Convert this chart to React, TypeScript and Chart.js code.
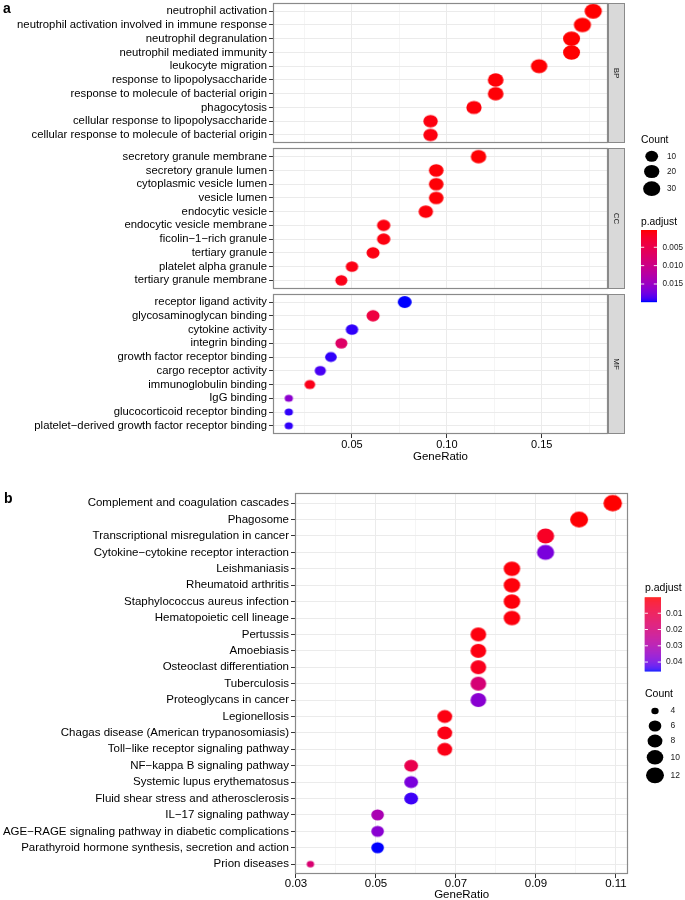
import React, { useEffect, useRef } from "react";
import { Chart, registerables } from "chart.js";

Chart.register(...registerables);
Chart.defaults.font.family = "'Liberation Sans', Arial, sans-serif";

// ---------------- Panel a data (GO enrichment) ----------------
const bpTerms = [
  "neutrophil activation",
  "neutrophil activation involved in immune response",
  "neutrophil degranulation",
  "neutrophil mediated immunity",
  "leukocyte migration",
  "response to lipopolysaccharide",
  "response to molecule of bacterial origin",
  "phagocytosis",
  "cellular response to lipopolysaccharide",
  "cellular response to molecule of bacterial origin",
];
const bpRatio = [0.1771, 0.1714, 0.1657, 0.1657, 0.1486, 0.1257, 0.1257, 0.1143, 0.0914, 0.0914];
const bpCount = [31, 30, 29, 29, 26, 22, 22, 20, 16, 16];
const bpPadj = [0.0003, 0.0003, 0.0003, 0.0003, 0.0004, 0.0005, 0.0005, 0.0006, 0.0008, 0.0008];

const ccTerms = [
  "secretory granule membrane",
  "secretory granule lumen",
  "cytoplasmic vesicle lumen",
  "vesicle lumen",
  "endocytic vesicle",
  "endocytic vesicle membrane",
  "ficolin\u22121\u2212rich granule",
  "tertiary granule",
  "platelet alpha granule",
  "tertiary granule membrane",
];
const ccRatio = [0.1167, 0.0944, 0.0944, 0.0944, 0.0889, 0.0667, 0.0667, 0.0611, 0.05, 0.0444];
const ccCount = [21, 17, 17, 17, 16, 12, 12, 11, 9, 8];
const ccPadj = [0.0004, 0.0005, 0.0005, 0.0005, 0.0006, 0.0008, 0.0008, 0.0009, 0.001, 0.0012];

const mfTerms = [
  "receptor ligand activity",
  "glycosaminoglycan binding",
  "cytokine activity",
  "integrin binding",
  "growth factor receptor binding",
  "cargo receptor activity",
  "immunoglobulin binding",
  "IgG binding",
  "glucocorticoid receptor binding",
  "platelet\u2212derived growth factor receptor binding",
];
const mfRatio = [0.0778, 0.0611, 0.05, 0.0444, 0.0389, 0.0333, 0.0278, 0.0167, 0.0167, 0.0167];
const mfCount = [14, 11, 9, 8, 7, 6, 5, 3, 3, 3];
const mfPadj = [0.0199, 0.004, 0.0195, 0.007, 0.0195, 0.019, 0.0012, 0.016, 0.0195, 0.0195];

const facetNames = ["BP", "CC", "MF"];
const xTicksA = [0.025, 0.05, 0.075, 0.1, 0.125, 0.15, 0.175];
const countLegendA = [10, 20, 30];
const padjLegendA = [0.005, 0.01, 0.015];
const padjLegendLabelsA = ["0.005", "0.010", "0.015"];

// ---------------- Panel b data (KEGG enrichment) ----------------
const keggTerms = [
  "Complement and coagulation cascades",
  "Phagosome",
  "Transcriptional misregulation in cancer",
  "Cytokine\u2212cytokine receptor interaction",
  "Leishmaniasis",
  "Rheumatoid arthritis",
  "Staphylococcus aureus infection",
  "Hematopoietic cell lineage",
  "Pertussis",
  "Amoebiasis",
  "Osteoclast differentiation",
  "Tuberculosis",
  "Proteoglycans in cancer",
  "Legionellosis",
  "Chagas disease (American trypanosomiasis)",
  "Toll\u2212like receptor signaling pathway",
  "NF\u2212kappa B signaling pathway",
  "Systemic lupus erythematosus",
  "Fluid shear stress and atherosclerosis",
  "IL\u221217 signaling pathway",
  "AGE\u2212RAGE signaling pathway in diabetic complications",
  "Parathyroid hormone synthesis, secretion and action",
  "Prion diseases",
];
const keggRatio = [
  0.1092, 0.1008, 0.0924, 0.0924, 0.084, 0.084, 0.084, 0.084, 0.0756, 0.0756, 0.0756, 0.0756,
  0.0756, 0.0672, 0.0672, 0.0672, 0.0588, 0.0588, 0.0588, 0.0504, 0.0504, 0.0504, 0.0336,
];
const keggCount = [13, 12, 11, 11, 10, 10, 10, 10, 9, 9, 9, 9, 9, 8, 8, 8, 7, 7, 7, 6, 6, 6, 4];
const keggPadj = [
  0.0002, 0.0005, 0.004, 0.039, 0.001, 0.001, 0.001, 0.0012, 0.0012, 0.0015, 0.003, 0.019,
  0.037, 0.0015, 0.0018, 0.002, 0.011, 0.039, 0.044, 0.031, 0.037, 0.0455, 0.018,
];
const xTicksB = [0.03, 0.04, 0.05, 0.06, 0.07, 0.08, 0.09, 0.1, 0.11];
const countLegendB = [4, 6, 8, 10, 12];
const padjLegendB = [0.01, 0.02, 0.03, 0.04];
const padjLegendLabelsB = ["0.01", "0.02", "0.03", "0.04"];

// ---------------- colour helpers (Lab interpolation red -> blue) ----------------
function srgbToLab(rgb: number[]) {
  const lin = rgb.map((c) => {
    const v = c / 255;
    return v <= 0.04045 ? v / 12.92 : Math.pow((v + 0.055) / 1.055, 2.4);
  });
  const [R, G, B] = lin;
  const X = (0.4124564 * R + 0.3575761 * G + 0.1804375 * B) / 0.95047;
  const Y = 0.2126729 * R + 0.7151522 * G + 0.072175 * B;
  const Z = (0.0193339 * R + 0.119192 * G + 0.9503041 * B) / 1.08883;
  const f = (t: number) => (t > 216 / 24389 ? Math.cbrt(t) : ((24389 / 27) * t + 16) / 116);
  return [116 * f(Y) - 16, 500 * (f(X) - f(Y)), 200 * (f(Y) - f(Z))];
}
function labToCss(lab: number[]) {
  const [L, a, b] = lab;
  const fy = (L + 16) / 116;
  const fx = fy + a / 500;
  const fz = fy - b / 200;
  const finv = (t: number) => (t * t * t > 216 / 24389 ? t * t * t : (116 * t - 16) / (24389 / 27));
  const X = 0.95047 * finv(fx);
  const Y = finv(fy);
  const Z = 1.08883 * finv(fz);
  const r = 3.2404542 * X - 1.5371385 * Y - 0.4985314 * Z;
  const g = -0.969266 * X + 1.8760108 * Y + 0.041556 * Z;
  const bb = 0.0556434 * X - 0.2040259 * Y + 1.0572252 * Z;
  const gam = (c: number) => {
    const v = c <= 0.0031308 ? 12.92 * c : 1.055 * Math.pow(c, 1 / 2.4) - 0.055;
    return Math.round(Math.max(0, Math.min(1, v)) * 255);
  };
  return `rgb(${gam(r)},${gam(g)},${gam(bb)})`;
}
const LAB_LOW = srgbToLab([255, 0, 0]);
const LAB_HIGH = srgbToLab([0, 0, 255]);
function rampColor(t: number) {
  const tt = Math.max(0, Math.min(1, t));
  return labToCss(LAB_LOW.map((v, i) => v + (LAB_HIGH[i] - v) * tt));
}

// ---------------- dot images ----------------
const dotCache: Record<string, HTMLCanvasElement> = {};
function dotImage(w: number, h: number, color: string) {
  const key = `${w.toFixed(2)}_${h.toFixed(2)}_${color}`;
  if (dotCache[key]) return dotCache[key];
  const c = document.createElement("canvas");
  c.width = Math.ceil(w) + 2;
  c.height = Math.ceil(h) + 2;
  const ctx = c.getContext("2d")!;
  ctx.fillStyle = color;
  ctx.beginPath();
  ctx.ellipse(c.width / 2, c.height / 2, w / 2, h / 2, 0, 0, Math.PI * 2);
  ctx.fill();
  dotCache[key] = c;
  return c;
}

function sizeFn(cmin: number, cmax: number, a0: number, a1: number, aspect: number) {
  return (c: number) => {
    const s = 3 + 5 * Math.sqrt(Math.max(0, (c - cmin) / (cmax - cmin)));
    const w = a0 + a1 * s;
    return { w, h: w * aspect };
  };
}

const FONT = "'Liberation Sans', Arial, sans-serif";

function drawLegend(
  ctx: CanvasRenderingContext2D,
  cfg: {
    countTitle: [number, number];
    countX: number;
    countYs: number[];
    countVals: number[];
    countLabelX: number;
    sizer: (c: number) => { w: number; h: number };
    padjTitle: [number, number];
    bar: { x: number; y: number; w: number; h: number };
    pmin: number;
    pmax: number;
    pTicks: number[];
    pLabels: string[];
    pLabelX: number;
    titleSize: number;
    labelSize: number;
  }
) {
  ctx.save();
  ctx.fillStyle = "#000";
  ctx.textBaseline = "middle";
  ctx.textAlign = "left";
  ctx.font = `${cfg.titleSize}px ${FONT}`;
  ctx.fillText("Count", cfg.countTitle[0], cfg.countTitle[1]);
  ctx.fillText("p.adjust", cfg.padjTitle[0], cfg.padjTitle[1]);
  ctx.font = `${cfg.labelSize}px ${FONT}`;
  cfg.countVals.forEach((v, i) => {
    const { w, h } = cfg.sizer(v);
    ctx.beginPath();
    ctx.ellipse(cfg.countX, cfg.countYs[i], w / 2, h / 2, 0, 0, Math.PI * 2);
    ctx.fillStyle = "#000";
    ctx.fill();
    ctx.fillStyle = "#1a1a1a";
    ctx.fillText(String(v), cfg.countLabelX, cfg.countYs[i]);
  });
  const { x, y, w, h } = cfg.bar;
  const steps = Math.ceil(h);
  for (let i = 0; i < steps; i++) {
    ctx.fillStyle = rampColor(i / (steps - 1));
    ctx.fillRect(x, y + i, w, 1.2);
  }
  cfg.pTicks.forEach((p, i) => {
    const t = (p - cfg.pmin) / (cfg.pmax - cfg.pmin);
    const ty = y + t * h;
    ctx.strokeStyle = "rgba(255,255,255,0.9)";
    ctx.lineWidth = 1;
    ctx.beginPath();
    ctx.moveTo(x, ty);
    ctx.lineTo(x + w / 5, ty);
    ctx.moveTo(x + w, ty);
    ctx.lineTo(x + w - w / 5, ty);
    ctx.stroke();
    ctx.fillStyle = "#1a1a1a";
    ctx.fillText(cfg.pLabels[i], cfg.pLabelX, ty);
  });
  ctx.restore();
}

function isMultiple(v: number, step: number) {
  const q = v / step;
  return Math.abs(q - Math.round(q)) < 1e-6;
}

// ---------------- panel a layout ----------------
const GAP = 0.38;
const FACET_SPAN = 10.2 + GAP;
const facetTerms = [bpTerms, ccTerms, mfTerms];
const facetRatio = [bpRatio, ccRatio, mfRatio];
const facetCount = [bpCount, ccCount, mfCount];
const facetPadj = [bpPadj, ccPadj, mfPadj];

function zeroPadY(axis: any) {
  axis.paddingTop = 0;
  axis.paddingBottom = 0;
}
function zeroPadX(axis: any) {
  axis.paddingLeft = 0;
  axis.paddingRight = 0;
}

function PanelA() {
  const ref = useRef<HTMLCanvasElement>(null);
  useEffect(() => {
    const allCounts = facetCount.flat();
    const allP = facetPadj.flat();
    const cmin = Math.min(...allCounts);
    const cmax = Math.max(...allCounts);
    const pmin = Math.min(...allP);
    const pmax = Math.max(...allP);
    const sizer = sizeFn(cmin, cmax, 2.9, 1.8, 0.86);

    const labelMap = new Map<string, string>();
    const rowPos: number[] = [];
    const points: any[] = [];
    facetTerms.forEach((terms, k) => {
      terms.forEach((t, i) => {
        const yv = k * FACET_SPAN + i;
        rowPos.push(yv);
        labelMap.set(yv.toFixed(3), t);
        points.push({
          x: facetRatio[k][i],
          y: yv,
          count: facetCount[k][i],
          p: facetPadj[k][i],
        });
      });
    });
    const panels = [0, 1, 2].map((k) => ({
      top: k * FACET_SPAN - 0.6,
      bottom: k * FACET_SPAN + 9.6,
    }));
    const yMax = panels[2].bottom;

    const plugin = {
      id: "facetsA",
      beforeDatasetsDraw(chart: any) {
        const { ctx, chartArea } = chart;
        const ys = chart.scales.y;
        ctx.save();
        ctx.fillStyle = "#fff";
        for (let k = 0; k < 2; k++) {
          const y0 = ys.getPixelForValue(panels[k].bottom);
          const y1 = ys.getPixelForValue(panels[k + 1].top);
          ctx.fillRect(chartArea.left - 0.5, y0, chartArea.right - chartArea.left + 1, y1 - y0);
        }
        ctx.restore();
      },
      afterDraw(chart: any) {
        const { ctx, chartArea } = chart;
        const ys = chart.scales.y;
        ctx.save();
        panels.forEach((pn, k) => {
          const y0 = Math.round(ys.getPixelForValue(pn.top)) + 0.5;
          const y1 = Math.round(ys.getPixelForValue(pn.bottom)) - 0.5;
          const l = Math.round(chartArea.left) + 0.5;
          const r = Math.round(chartArea.right) - 0.5;
          // strip
          ctx.fillStyle = "#D9D9D9";
          ctx.fillRect(r + 1, y0, 16, y1 - y0);
          ctx.strokeStyle = "#8a8a8a";
          ctx.lineWidth = 1;
          ctx.strokeRect(r + 1, y0, 16, y1 - y0);
          // panel border
          ctx.strokeStyle = "#8a8a8a";
          ctx.lineWidth = 1.2;
          ctx.strokeRect(l, y0, r - l, y1 - y0);
          // strip text
          ctx.save();
          ctx.translate(r + 9, (y0 + y1) / 2);
          ctx.rotate(Math.PI / 2);
          ctx.fillStyle = "#1a1a1a";
          ctx.font = `8px ${FONT}`;
          ctx.textAlign = "center";
          ctx.textBaseline = "middle";
          ctx.fillText(facetNames[k], 0, 0);
          ctx.restore();
        });
        ctx.restore();
        drawLegend(ctx, {
          countTitle: [641, 140],
          countX: 651.7,
          countYs: [156.3, 171.5, 188.7],
          countVals: countLegendA,
          countLabelX: 667,
          sizer,
          padjTitle: [641, 222],
          bar: { x: 641, y: 230, w: 16, h: 72 },
          pmin,
          pmax,
          pTicks: padjLegendA,
          pLabels: padjLegendLabelsA,
          pLabelX: 662.5,
          titleSize: 10.3,
          labelSize: 8.2,
        });
      },
    };

    const chart = new Chart(ref.current!, {
      type: "scatter",
      data: {
        datasets: [
          {
            data: points,
            pointStyle: (c: any) => {
              const d = c.raw;
              if (!d) return "circle";
              const { w, h } = sizer(d.count);
              return dotImage(w, h, rampColor((d.p - pmin) / (pmax - pmin)));
            },
            pointRadius: (c: any) => (c.raw ? sizer(c.raw.count).w / 2 : 3),
            pointHoverRadius: (c: any) => (c.raw ? sizer(c.raw.count).w / 2 : 3),
            clip: false,
          } as any,
        ],
      },
      options: {
        animation: false,
        responsive: false,
        maintainAspectRatio: false,
        events: [],
        layout: { autoPadding: false, padding: { left: 0, right: 77, top: 3, bottom: 0 } },
        plugins: { legend: { display: false }, tooltip: { enabled: false } },
        scales: {
          x: {
            type: "linear",
            min: 0.0084,
            max: 0.1849,
            afterBuildTicks: (axis: any) => {
              axis.ticks = xTicksA.map((v) => ({ value: v }));
            },
            afterFit: (axis: any) => {
              axis.height = 36;
              zeroPadX(axis);
            },
            ticks: {
              autoSkip: false,
              maxRotation: 0,
              padding: 0,
              color: "#000",
              font: { size: 11 },
              callback: (v: any) => (isMultiple(v, 0.05) ? Number(v).toFixed(2) : ""),
            },
            grid: {
              color: "#EBEBEB",
              lineWidth: (c: any) => (c.tick && isMultiple(c.tick.value, 0.05) ? 1 : 0.5),
              tickColor: (c: any) =>
                c.tick && isMultiple(c.tick.value, 0.05) ? "#333" : "rgba(0,0,0,0)",
              tickLength: 4,
            },
            border: { display: false },
            title: {
              display: true,
              text: "GeneRatio",
              color: "#000",
              font: { size: 11.5 },
              padding: { top: 0, bottom: 6 },
            },
          },
          y: {
            type: "linear",
            reverse: true,
            min: -0.6,
            max: yMax,
            afterBuildTicks: (axis: any) => {
              axis.ticks = rowPos.map((v) => ({ value: v }));
            },
            afterFit: (axis: any) => {
              axis.width = 273;
              zeroPadY(axis);
            },
            ticks: {
              autoSkip: false,
              padding: 2,
              color: "#000",
              font: { size: 11.3 },
              callback: (v: any) => labelMap.get(Number(v).toFixed(3)) ?? "",
            },
            grid: { color: "#EBEBEB", lineWidth: 1, tickColor: "#333", tickLength: 4 },
            border: { display: false },
          },
        },
      } as any,
      plugins: [plugin],
    });
    return () => chart.destroy();
  }, []);
  return (
    <canvas
      ref={ref}
      width={685}
      height={470}
      style={{ position: "absolute", left: 0, top: 0, width: 685, height: 470 }}
    />
  );
}

function PanelB() {
  const ref = useRef<HTMLCanvasElement>(null);
  useEffect(() => {
    const cmin = Math.min(...keggCount);
    const cmax = Math.max(...keggCount);
    const pmin = Math.min(...keggPadj);
    const pmax = Math.max(...keggPadj);
    const sizer = sizeFn(cmin, cmax, 0.6, 2.25, 0.88);
    const points = keggTerms.map((t, i) => ({
      x: keggRatio[i],
      y: i,
      count: keggCount[i],
      p: keggPadj[i],
    }));
    const rowPos = keggTerms.map((_, i) => i);

    const plugin = {
      id: "frameB",
      afterDraw(chart: any) {
        const { ctx, chartArea } = chart;
        ctx.save();
        const l = Math.round(chartArea.left) + 0.5;
        const r = Math.round(chartArea.right) - 0.5;
        const t = Math.round(chartArea.top) + 0.5;
        const b = Math.round(chartArea.bottom) - 0.5;
        ctx.strokeStyle = "#8a8a8a";
        ctx.lineWidth = 1.2;
        ctx.strokeRect(l, t, r - l, b - t);
        ctx.restore();
        drawLegend(ctx, {
          countTitle: [645, 224.3],
          countX: 655,
          countYs: [241, 256, 271, 287.3, 305.3],
          countVals: countLegendB,
          countLabelX: 670.5,
          sizer,
          padjTitle: [645, 118.3],
          bar: { x: 644.7, y: 127.3, w: 16.3, h: 73.7 },
          pmin,
          pmax,
          pTicks: padjLegendB,
          pLabels: padjLegendLabelsB,
          pLabelX: 666,
          titleSize: 10.5,
          labelSize: 8.5,
        });
      },
    };

    const chart = new Chart(ref.current!, {
      type: "scatter",
      data: {
        datasets: [
          {
            data: points,
            pointStyle: (c: any) => {
              const d = c.raw;
              if (!d) return "circle";
              const { w, h } = sizer(d.count);
              return dotImage(w, h, rampColor((d.p - pmin) / (pmax - pmin)));
            },
            pointRadius: (c: any) => (c.raw ? sizer(c.raw.count).w / 2 : 3),
            pointHoverRadius: (c: any) => (c.raw ? sizer(c.raw.count).w / 2 : 3),
            clip: false,
          } as any,
        ],
      },
      options: {
        animation: false,
        responsive: false,
        maintainAspectRatio: false,
        events: [],
        layout: { autoPadding: false, padding: { left: 0, right: 56.7, top: 23.3, bottom: 0 } },
        plugins: { legend: { display: false }, tooltip: { enabled: false } },
        scales: {
          x: {
            type: "linear",
            min: 0.02975,
            max: 0.1131,
            afterBuildTicks: (axis: any) => {
              axis.ticks = xTicksB.map((v) => ({ value: v }));
            },
            afterFit: (axis: any) => {
              axis.height = 26;
              zeroPadX(axis);
            },
            ticks: {
              autoSkip: false,
              maxRotation: 0,
              padding: -1.5,
              color: "#000",
              font: { size: 11.5 },
              callback: (v: any) =>
                Math.round(Number(v) * 100) % 2 === 1 ? Number(v).toFixed(2) : "",
            },
            grid: {
              color: "#EBEBEB",
              lineWidth: (c: any) =>
                c.tick && Math.round(c.tick.value * 100) % 2 === 1 ? 1 : 0.5,
              tickColor: (c: any) =>
                c.tick && Math.round(c.tick.value * 100) % 2 === 1 ? "#333" : "rgba(0,0,0,0)",
              tickLength: 4,
            },
            border: { display: false },
            title: {
              display: true,
              text: "GeneRatio",
              color: "#000",
              font: { size: 11.5 },
              padding: { top: 0, bottom: -2 },
            },
          },
          y: {
            type: "linear",
            reverse: true,
            min: -0.6,
            max: keggTerms.length - 1 + 0.6,
            afterBuildTicks: (axis: any) => {
              axis.ticks = rowPos.map((v) => ({ value: v }));
            },
            afterFit: (axis: any) => {
              axis.width = 295;
              zeroPadY(axis);
            },
            ticks: {
              autoSkip: false,
              padding: 2,
              color: "#000",
              font: { size: 11.5 },
              callback: (v: any) => keggTerms[Math.round(Number(v))] ?? "",
            },
            grid: { color: "#EBEBEB", lineWidth: 1, tickColor: "#333", tickLength: 4 },
            border: { display: false },
          },
        },
      } as any,
      plugins: [plugin],
    });
    return () => chart.destroy();
  }, []);
  return (
    <canvas
      ref={ref}
      width={685}
      height={430}
      style={{ position: "absolute", left: 0, top: 470, width: 685, height: 430 }}
    />
  );
}

export default function App() {
  const labelStyle: React.CSSProperties = {
    position: "absolute",
    fontFamily: FONT,
    fontWeight: "bold",
    fontSize: 14,
    lineHeight: "14px",
    color: "#000",
  };
  return (
    <div
      style={{
        position: "absolute",
        left: 0,
        top: 0,
        width: 685,
        height: 900,
        background: "#fff",
        overflow: "hidden",
      }}
    >
      <PanelA />
      <PanelB />
      <div style={{ ...labelStyle, left: 3, top: 1 }}>a</div>
      <div style={{ ...labelStyle, left: 4, top: 491 }}>b</div>
    </div>
  );
}
